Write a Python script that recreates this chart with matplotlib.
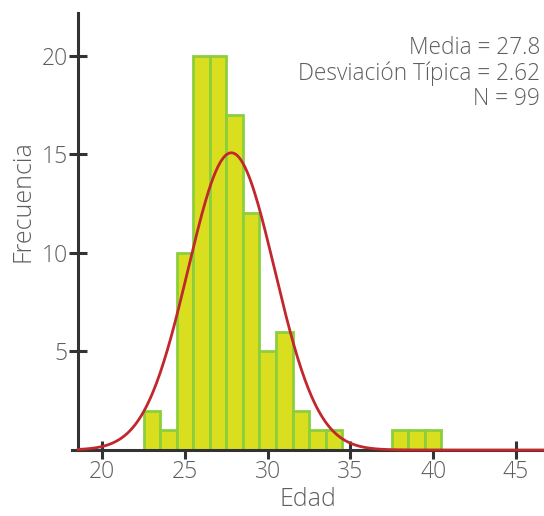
import numpy as np
import matplotlib
matplotlib.use("Agg")
import matplotlib.pyplot as plt

# histogram data (bin left edges, width 1)
bin_left = [22.5, 23.5, 24.5, 25.5, 26.5, 27.5, 28.5, 29.5, 30.5, 31.5, 32.5, 33.5,
            37.5, 38.5, 39.5]
counts = [2, 1, 10, 20, 20, 17, 12, 5, 6, 2, 1, 1, 1, 1, 1]

media = 27.8
desv = 2.62
n = 99

xticks = [20, 25, 30, 35, 40, 45]
yticks = [5, 10, 15, 20]

plt.rcParams['font.family'] = ['Open Sans', 'DejaVu Sans']
text_color = '#5e5e5e'
axis_color = '#333333'

fig = plt.figure(figsize=(5.44, 5.16), dpi=100)
ax = fig.add_axes([71.7 / 544, (516 - 450) / 516, (544 - 71.7) / 544, (450 - 12.7) / 516])

ax.bar(bin_left, counts, width=1, align='edge', color='#d9df1f',
       edgecolor='#8ccf3c', linewidth=2, zorder=2)

# fitted normal curve
xs = np.linspace(18.55, 46.7, 400)
ys = n / (desv * np.sqrt(2 * np.pi)) * np.exp(-0.5 * ((xs - media) / desv) ** 2)
ax.plot(xs, ys, color='#c1272d', linewidth=2, zorder=4, clip_on=False)

ax.set_xlim(18.15, 46.7)
ax.set_ylim(0, 22.18)

for s in ['top', 'right']:
    ax.spines[s].set_visible(False)
ax.spines['left'].set_position(('data', 18.55))
for s in ['left', 'bottom']:
    ax.spines[s].set_color(axis_color)
    ax.spines[s].set_linewidth(2.2)

ax.set_xticks(xticks)
ax.set_yticks(yticks)
ax.tick_params(direction='inout', length=13, width=2.2, color=axis_color,
               labelsize=16.5, labelcolor=text_color)
ax.tick_params(axis='x', pad=1)
ax.tick_params(axis='y', pad=1)
for lab in ax.get_xticklabels() + ax.get_yticklabels():
    lab.set_fontweight('light')

ax.set_xlabel('Edad', fontsize=18, color=text_color, fontweight='light', labelpad=2)
ax.set_ylabel('Frecuencia', fontsize=18, color=text_color, fontweight='light')
ax.yaxis.set_label_coords(-0.076, 0.569)

stats = ['Media = %.1f' % media, 'Desviación Típica = %.2f' % desv, 'N = %d' % n]
for i, t in enumerate(stats):
    fig.text(540 / 544, 1 - (48 + 25.5 * i) / 516, t, ha='right', va='center',
             fontsize=16.3, color=text_color, fontweight='light')

fig.savefig('out.png', dpi=100)
